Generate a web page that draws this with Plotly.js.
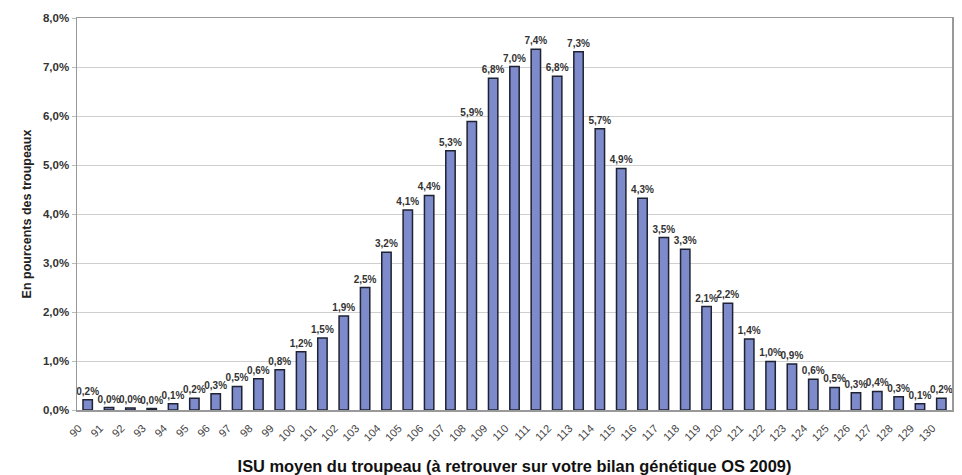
<!DOCTYPE html>
<html>
<head>
<meta charset="utf-8">
<script src="https://cdn.plot.ly/plotly-3.0.1.min.js"></script>
<style>
html,body{margin:0;padding:0;background:#fff;}
#chart{width:962px;height:475px;}
</style>
</head>
<body>
<div id="chart"></div>
<script>
var categories = ['90','91','92','93','94','95','96','97','98','99','100','101','102','103','104','105','106','107','108','109','110','111','112','113','114','115','116','117','118','119','120','121','122','123','124','125','126','127','128','129','130'];
var values = [0.21,0.05,0.04,0.03,0.13,0.24,0.33,0.48,0.64,0.82,1.19,1.47,1.92,2.50,3.22,4.08,4.38,5.29,5.89,6.77,7.01,7.36,6.81,7.31,5.74,4.93,4.32,3.52,3.28,2.11,2.18,1.45,0.99,0.94,0.63,0.46,0.35,0.38,0.27,0.13,0.24];
var labels = ['0,2%','0,0%','0,0%','0,0%','0,1%','0,2%','0,3%','0,5%','0,6%','0,8%','1,2%','1,5%','1,9%','2,5%','3,2%','4,1%','4,4%','5,3%','5,9%','6,8%','7,0%','7,4%','6,8%','7,3%','5,7%','4,9%','4,3%','3,5%','3,3%','2,1%','2,2%','1,4%','1,0%','0,9%','0,6%','0,5%','0,3%','0,4%','0,3%','0,1%','0,2%'];
var yTickVals = [0,1,2,3,4,5,6,7,8];
var yTickText = ['0,0%','1,0%','2,0%','3,0%','4,0%','5,0%','6,0%','7,0%','8,0%'];

var trace = {
  type: 'bar',
  x: categories,
  y: values,
  text: labels,
  textposition: 'outside',
  constraintext: 'none',
  cliponaxis: false,
  textfont: {family: 'Liberation Sans, Arial, sans-serif', size: 10, color: '#333', weight: 'bold'},
  marker: {color: '#7d8bcb', line: {color: '#1f2233', width: 1.5}},
  hoverinfo: 'none'
};

var layout = {
  width: 962, height: 475,
  margin: {l: 77, r: 10, t: 18, b: 65},
  paper_bgcolor: '#ffffff',
  plot_bgcolor: '#ffffff',
  bargap: 0.56,
  showlegend: false,
  font: {family: 'Liberation Sans, Arial, sans-serif', color: '#333'},
  xaxis: {
    type: 'category',
    range: [-0.5, categories.length - 0.5],
    autorange: false,
    tickangle: -45,
    ticklabelshift: -9,
    ticklabelstandoff: 6,
    tickfont: {size: 11, color: '#444'},
    showline: true, linecolor: '#999', linewidth: 1.5, mirror: true,
    ticks: '',
    showgrid: false,
    automargin: false,
    title: {text: '<b>ISU moyen du troupeau (à retrouver sur votre bilan génétique OS 2009)</b>', font: {size: 16.4, color: '#111'}, standoff: 40}
  },
  yaxis: {
    range: [0, 8],
    tickvals: yTickVals,
    ticktext: yTickText,
    tickfont: {size: 11.5, color: '#333', weight: 'bold'},
    showline: true, linecolor: '#999', linewidth: 1.5, mirror: true,
    ticks: 'outside', ticklen: 4, tickcolor: '#bbb',
    gridcolor: '#cfcfcf', gridwidth: 1,
    zeroline: false,
    automargin: false,
    title: {text: '<b>En pourcents des troupeaux</b>', font: {size: 12.5, color: '#222'}, standoff: 8}
  }
};

Plotly.newPlot('chart', [trace], layout, {staticPlot: true, displayModeBar: false});
</script>
</body>
</html>
